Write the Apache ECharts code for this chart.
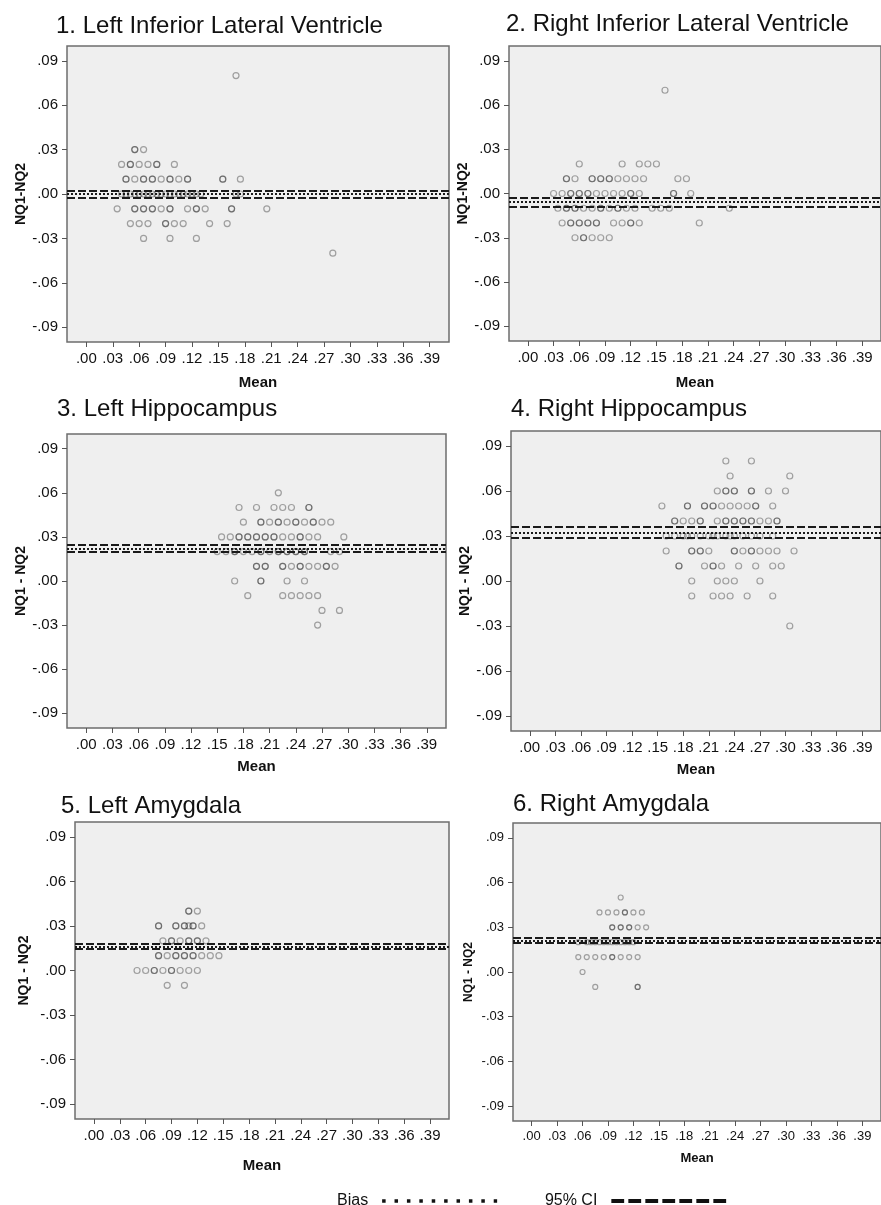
<!DOCTYPE html>
<html>
<head>
<meta charset="utf-8">
<script src="https://cdn.jsdelivr.net/npm/echarts@6/dist/echarts.min.js"></script>
<style>
html,body{margin:0;padding:0;background:#ffffff;}
#chart{width:881px;height:1205px;}
</style>
</head>
<body>
<div id="chart"></div>
<script>
// ---------- DATA ----------
const panelTitles = [
  '1. Left Inferior Lateral Ventricle',
  '2. Right Inferior Lateral Ventricle',
  '3. Left Hippocampus',
  '4. Right Hippocampus',
  '5. Left Amygdala',
  '6. Right Amygdala'
];
const yAxisNames = ['NQ1-NQ2', 'NQ1-NQ2', 'NQ1 - NQ2', 'NQ1 - NQ2', 'NQ1 - NQ2', 'NQ1 - NQ2'];
const xAxisName = 'Mean';
const xTickValues = [0, 0.03, 0.06, 0.09, 0.12, 0.15, 0.18, 0.21, 0.24, 0.27, 0.30, 0.33, 0.36, 0.39];
const yTickValues = [-0.09, -0.06, -0.03, 0, 0.03, 0.06, 0.09];
const legendNames = ['Bias', '95% CI'];

// [mean, NQ1-NQ2] pairs (repeated pairs = overlapping cases)
const leftInfLatVentricle = [
  [0.17,0.08],
  [0.055,0.03],[0.055,0.03],[0.065,0.03],
  [0.04,0.02],[0.05,0.02],[0.05,0.02],[0.06,0.02],[0.07,0.02],[0.08,0.02],[0.08,0.02],[0.10,0.02],
  [0.045,0.01],[0.045,0.01],[0.055,0.01],[0.065,0.01],[0.065,0.01],[0.075,0.01],[0.075,0.01],[0.085,0.01],
  [0.095,0.01],[0.095,0.01],[0.105,0.01],[0.115,0.01],[0.115,0.01],[0.155,0.01],[0.155,0.01],[0.175,0.01],
  [0.04,0],[0.045,0],[0.05,0],[0.055,0],[0.06,0],[0.065,0],[0.07,0],[0.075,0],[0.08,0],[0.085,0],[0.09,0],
  [0.095,0],[0.10,0],[0.105,0],[0.11,0],[0.115,0],[0.12,0],[0.125,0],[0.13,0],[0.17,0],[0.175,0],
  [0.035,-0.01],[0.055,-0.01],[0.055,-0.01],[0.065,-0.01],[0.065,-0.01],[0.075,-0.01],[0.075,-0.01],
  [0.085,-0.01],[0.095,-0.01],[0.095,-0.01],[0.115,-0.01],[0.125,-0.01],[0.125,-0.01],[0.135,-0.01],
  [0.165,-0.01],[0.165,-0.01],[0.205,-0.01],
  [0.05,-0.02],[0.06,-0.02],[0.07,-0.02],[0.09,-0.02],[0.09,-0.02],[0.10,-0.02],[0.11,-0.02],[0.14,-0.02],[0.16,-0.02],
  [0.065,-0.03],[0.095,-0.03],[0.125,-0.03],
  [0.28,-0.04]
];
const rightInfLatVentricle = [
  [0.16,0.07],
  [0.06,0.02],[0.11,0.02],[0.13,0.02],[0.14,0.02],[0.15,0.02],
  [0.045,0.01],[0.045,0.01],[0.055,0.01],[0.075,0.01],[0.075,0.01],[0.085,0.01],[0.085,0.01],[0.095,0.01],
  [0.095,0.01],[0.105,0.01],[0.115,0.01],[0.125,0.01],[0.135,0.01],[0.175,0.01],[0.185,0.01],
  [0.03,0],[0.04,0],[0.05,0],[0.05,0],[0.06,0],[0.06,0],[0.07,0],[0.07,0],[0.08,0],[0.09,0],[0.10,0],
  [0.11,0],[0.12,0],[0.12,0],[0.13,0],[0.17,0],[0.17,0],[0.19,0],
  [0.035,-0.01],[0.045,-0.01],[0.045,-0.01],[0.055,-0.01],[0.055,-0.01],[0.065,-0.01],[0.075,-0.01],
  [0.085,-0.01],[0.085,-0.01],[0.095,-0.01],[0.105,-0.01],[0.105,-0.01],[0.115,-0.01],[0.125,-0.01],
  [0.145,-0.01],[0.155,-0.01],[0.165,-0.01],[0.235,-0.01],
  [0.04,-0.02],[0.05,-0.02],[0.05,-0.02],[0.06,-0.02],[0.06,-0.02],[0.07,-0.02],[0.07,-0.02],[0.08,-0.02],
  [0.08,-0.02],[0.10,-0.02],[0.11,-0.02],[0.12,-0.02],[0.12,-0.02],[0.13,-0.02],[0.20,-0.02],
  [0.055,-0.03],[0.065,-0.03],[0.065,-0.03],[0.075,-0.03],[0.085,-0.03],[0.095,-0.03]
];
const leftHippocampus = [
  [0.22,0.06],
  [0.175,0.05],[0.195,0.05],[0.215,0.05],[0.225,0.05],[0.235,0.05],[0.255,0.05],[0.255,0.05],
  [0.18,0.04],[0.20,0.04],[0.20,0.04],[0.21,0.04],[0.22,0.04],[0.22,0.04],[0.23,0.04],[0.24,0.04],
  [0.24,0.04],[0.25,0.04],[0.26,0.04],[0.26,0.04],[0.27,0.04],[0.28,0.04],
  [0.155,0.03],[0.165,0.03],[0.175,0.03],[0.175,0.03],[0.185,0.03],[0.185,0.03],[0.195,0.03],[0.195,0.03],
  [0.205,0.03],[0.205,0.03],[0.215,0.03],[0.215,0.03],[0.225,0.03],[0.235,0.03],[0.245,0.03],[0.245,0.03],
  [0.255,0.03],[0.265,0.03],[0.295,0.03],
  [0.15,0.02],[0.16,0.02],[0.17,0.02],[0.17,0.02],[0.18,0.02],[0.19,0.02],[0.20,0.02],[0.20,0.02],
  [0.21,0.02],[0.22,0.02],[0.22,0.02],[0.23,0.02],[0.23,0.02],[0.24,0.02],[0.24,0.02],[0.25,0.02],
  [0.25,0.02],[0.28,0.02],[0.29,0.02],
  [0.195,0.01],[0.195,0.01],[0.205,0.01],[0.205,0.01],[0.225,0.01],[0.225,0.01],[0.235,0.01],
  [0.245,0.01],[0.245,0.01],[0.255,0.01],[0.265,0.01],[0.275,0.01],[0.275,0.01],[0.285,0.01],
  [0.17,0],[0.20,0],[0.20,0],[0.23,0],[0.25,0],
  [0.185,-0.01],[0.225,-0.01],[0.235,-0.01],[0.245,-0.01],[0.255,-0.01],[0.265,-0.01],
  [0.27,-0.02],[0.29,-0.02],
  [0.265,-0.03]
];
const rightHippocampus = [
  [0.23,0.08],[0.26,0.08],
  [0.235,0.07],[0.305,0.07],
  [0.22,0.06],[0.23,0.06],[0.23,0.06],[0.24,0.06],[0.24,0.06],[0.26,0.06],[0.26,0.06],[0.28,0.06],[0.30,0.06],
  [0.155,0.05],[0.185,0.05],[0.185,0.05],[0.205,0.05],[0.205,0.05],[0.215,0.05],[0.215,0.05],[0.225,0.05],
  [0.235,0.05],[0.245,0.05],[0.255,0.05],[0.265,0.05],[0.265,0.05],[0.285,0.05],
  [0.17,0.04],[0.17,0.04],[0.18,0.04],[0.19,0.04],[0.20,0.04],[0.20,0.04],[0.22,0.04],[0.23,0.04],
  [0.23,0.04],[0.24,0.04],[0.24,0.04],[0.25,0.04],[0.25,0.04],[0.26,0.04],[0.26,0.04],[0.27,0.04],
  [0.28,0.04],[0.29,0.04],[0.29,0.04],
  [0.16,0.03],[0.17,0.03],[0.18,0.03],[0.185,0.03],[0.19,0.03],[0.20,0.03],[0.21,0.03],[0.215,0.03],
  [0.22,0.03],[0.23,0.03],[0.235,0.03],[0.24,0.03],[0.25,0.03],[0.26,0.03],[0.27,0.03],[0.285,0.03],
  [0.16,0.02],[0.19,0.02],[0.19,0.02],[0.20,0.02],[0.20,0.02],[0.21,0.02],[0.24,0.02],[0.24,0.02],
  [0.25,0.02],[0.26,0.02],[0.26,0.02],[0.27,0.02],[0.28,0.02],[0.29,0.02],[0.31,0.02],
  [0.175,0.01],[0.175,0.01],[0.205,0.01],[0.215,0.01],[0.215,0.01],[0.225,0.01],[0.245,0.01],
  [0.265,0.01],[0.285,0.01],[0.295,0.01],
  [0.19,0],[0.22,0],[0.23,0],[0.24,0],[0.27,0],
  [0.19,-0.01],[0.215,-0.01],[0.225,-0.01],[0.235,-0.01],[0.255,-0.01],[0.285,-0.01],
  [0.305,-0.03]
];
const leftAmygdala = [
  [0.11,0.04],[0.11,0.04],[0.12,0.04],
  [0.075,0.03],[0.075,0.03],[0.095,0.03],[0.095,0.03],[0.105,0.03],[0.105,0.03],[0.11,0.03],
  [0.115,0.03],[0.115,0.03],[0.125,0.03],
  [0.08,0.02],[0.09,0.02],[0.09,0.02],[0.10,0.02],[0.11,0.02],[0.11,0.02],[0.12,0.02],[0.12,0.02],[0.13,0.02],
  [0.075,0.01],[0.075,0.01],[0.085,0.01],[0.095,0.01],[0.095,0.01],[0.105,0.01],[0.105,0.01],
  [0.115,0.01],[0.115,0.01],[0.125,0.01],[0.135,0.01],[0.145,0.01],
  [0.05,0],[0.06,0],[0.07,0],[0.07,0],[0.08,0],[0.09,0],[0.09,0],[0.10,0],[0.11,0],[0.12,0],
  [0.085,-0.01],[0.105,-0.01]
];
const rightAmygdala = [
  [0.105,0.05],
  [0.08,0.04],[0.09,0.04],[0.10,0.04],[0.11,0.04],[0.11,0.04],[0.12,0.04],[0.13,0.04],
  [0.095,0.03],[0.095,0.03],[0.105,0.03],[0.105,0.03],[0.115,0.03],[0.115,0.03],[0.125,0.03],[0.135,0.03],
  [0.055,0.02],[0.065,0.02],[0.07,0.02],[0.075,0.02],[0.08,0.02],[0.085,0.02],[0.09,0.02],[0.095,0.02],
  [0.10,0.02],[0.105,0.02],[0.11,0.02],[0.115,0.02],[0.12,0.02],
  [0.055,0.01],[0.065,0.01],[0.075,0.01],[0.085,0.01],[0.095,0.01],[0.095,0.01],[0.105,0.01],[0.115,0.01],[0.125,0.01],
  [0.06,0],
  [0.075,-0.01],[0.125,-0.01],[0.125,-0.01]
];
const panelData = [leftInfLatVentricle, rightInfLatVentricle, leftHippocampus, rightHippocampus, leftAmygdala, rightAmygdala];

const biasValues = [0.0002, -0.0059, 0.0222, 0.0324, 0.0160, 0.0211];
const ciUpperValues = [0.0025, -0.0030, 0.0248, 0.0364, 0.0177, 0.0229];
const ciLowerValues = [-0.0022, -0.0088, 0.0196, 0.0288, 0.0144, 0.0193];

// ---------- LAYOUT / STYLE ----------
const layout = [
  {left: 67,  top: 46,  width: 382, height: 296, titleLeft: 56,  titleTop: 14,  yGap: 39, xGap: 33, tick: 15, name: 14, mean: 15, sym: 6},
  {left: 509, top: 46,  width: 382, height: 295, titleLeft: 506, titleTop: 12,  yGap: 37, xGap: 34, tick: 15, name: 14, mean: 15, sym: 6},
  {left: 67,  top: 434, width: 379, height: 294, titleLeft: 57,  titleTop: 397, yGap: 39, xGap: 31, tick: 15, name: 14, mean: 15, sym: 6},
  {left: 511, top: 431, width: 380, height: 300, titleLeft: 511, titleTop: 397, yGap: 39, xGap: 31, tick: 15, name: 14, mean: 15, sym: 6},
  {left: 75,  top: 822, width: 374, height: 297, titleLeft: 61,  titleTop: 794, yGap: 44, xGap: 39, tick: 15, name: 14, mean: 15, sym: 6},
  {left: 513, top: 823, width: 375, height: 298, titleLeft: 513, titleTop: 792, yGap: 38, xGap: 31, tick: 13, name: 12, mean: 13, sym: 5}
];
const FONT = '"Liberation Sans", Arial, Helvetica, sans-serif';
const fmt = v => v.toFixed(2).replace(/^(-?)0\./, '$1.');

const grids = [], xAxes = [], yAxes = [], titles = [], series = [];
layout.forEach((L, i) => {
  grids.push({
    left: L.left, top: L.top, width: L.width, height: L.height,
    show: true, backgroundColor: '#efefef', borderColor: '#6e6e6e', borderWidth: 1.5
  });
  titles.push({
    text: panelTitles[i], left: L.titleLeft, top: L.titleTop, padding: 0,
    textStyle: {fontFamily: FONT, fontSize: 24, fontWeight: 'normal', color: '#111'}
  });
  xAxes.push({
    gridIndex: i, type: 'value', min: -0.022, max: 0.412, position: 'bottom',
    name: xAxisName, nameLocation: 'middle', nameGap: L.xGap,
    nameTextStyle: {fontFamily: FONT, fontSize: L.mean, fontWeight: 'bold', color: '#111'},
    axisLine: {show: false, onZero: false},
    axisTick: {show: true, inside: false, length: 5, customValues: xTickValues, lineStyle: {color: '#555', width: 1}},
    axisLabel: {customValues: xTickValues, formatter: fmt, margin: 9, fontFamily: FONT, fontSize: L.tick, color: '#111'},
    splitLine: {show: false}
  });
  yAxes.push({
    gridIndex: i, type: 'value', min: -0.1, max: 0.1, position: 'left',
    name: yAxisNames[i], nameLocation: 'middle', nameGap: L.yGap, nameRotate: 90,
    nameTextStyle: {fontFamily: FONT, fontSize: L.name, fontWeight: 'bold', color: '#111'},
    axisLine: {show: false, onZero: false},
    axisTick: {show: true, inside: false, length: 5, customValues: yTickValues, lineStyle: {color: '#555', width: 1}},
    axisLabel: {customValues: yTickValues, formatter: fmt, margin: 9, fontFamily: FONT, fontSize: L.tick, color: '#111'},
    splitLine: {show: false}
  });
  series.push({
    type: 'scatter', xAxisIndex: i, yAxisIndex: i, data: panelData[i],
    symbol: 'circle', symbolSize: L.sym, silent: true,
    itemStyle: {color: 'rgba(0,0,0,0)', borderColor: 'rgba(30,30,30,0.48)', borderWidth: 1.2},
    z: 2
  });
  series.push({
    name: legendNames[0], type: 'line', xAxisIndex: i, yAxisIndex: i, data: [], symbol: 'none',
    lineStyle: {type: [2, 2], width: 2, color: '#1a1a1a'},
    markLine: {
      silent: true, symbol: ['none', 'none'], label: {show: false}, precision: 6,
      lineStyle: {type: [2, 2], width: 2, color: '#1a1a1a'},
      data: [{yAxis: biasValues[i]}]
    },
    z: 3
  });
  series.push({
    name: legendNames[1], type: 'line', xAxisIndex: i, yAxisIndex: i, data: [], symbol: 'none',
    lineStyle: {type: [8, 3], width: 2, color: '#1a1a1a'},
    markLine: {
      silent: true, symbol: ['none', 'none'], label: {show: false}, precision: 6,
      lineStyle: {type: [8, 3], width: 2, color: '#1a1a1a'},
      data: [{yAxis: ciUpperValues[i]}, {yAxis: ciLowerValues[i]}]
    },
    z: 3
  });
});

const chart = echarts.init(document.getElementById('chart'), null, {renderer: 'canvas'});
chart.setOption({
  animation: false,
  backgroundColor: '#ffffff',
  title: titles,
  grid: grids,
  xAxis: xAxes,
  yAxis: yAxes,
  legend: {
    left: 332, top: 1188, align: 'right', itemWidth: 115, itemHeight: 14, itemGap: 46,
    selectedMode: false,
    textStyle: {fontFamily: FONT, fontSize: 16, color: '#111', padding: [0, 9, 0, 0]},
    data: [
      {name: legendNames[0], itemStyle: {color: 'rgba(0,0,0,0)', borderWidth: 0, opacity: 0},
       lineStyle: {type: [3.5, 8.9], width: 3.5, color: '#111'}},
      {name: legendNames[1], itemStyle: {color: 'rgba(0,0,0,0)', borderWidth: 0, opacity: 0},
       lineStyle: {type: [12.8, 4.2], width: 4, color: '#111'}}
    ]
  },
  series: series
});
</script>
</body>
</html>
